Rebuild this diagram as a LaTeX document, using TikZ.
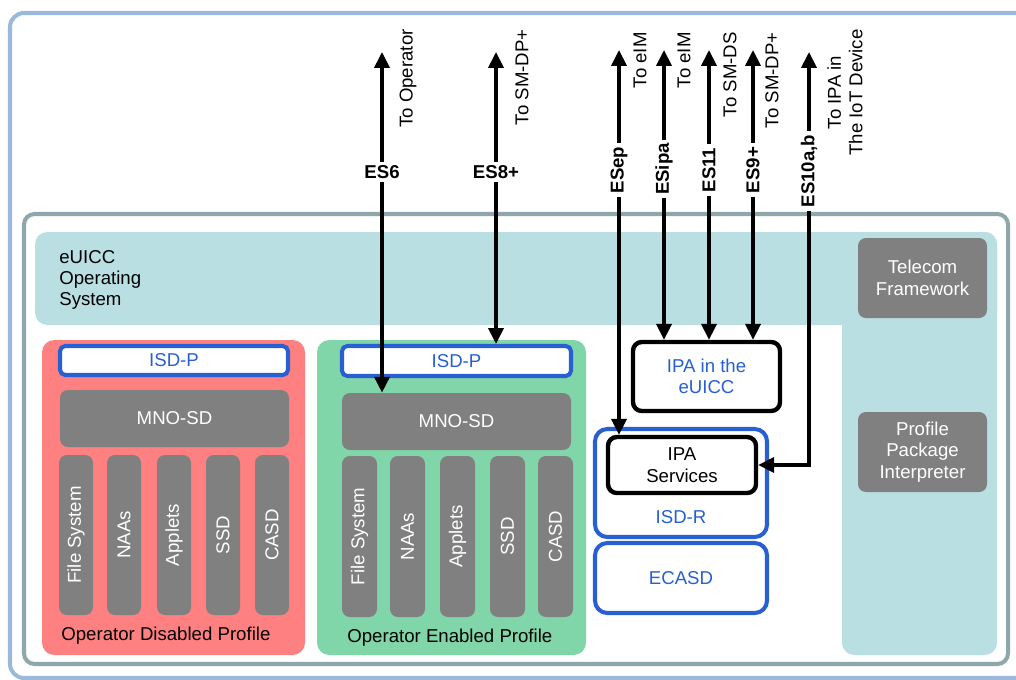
\documentclass[tikz,border=0pt]{standalone}
\usepackage{fontspec}
\setmainfont{Liberation Sans}
\usetikzlibrary{arrows.meta,fit,positioning}

\definecolor{framesky}{RGB}{155,185,220}
\definecolor{framegray}{RGB}{143,167,170}
\definecolor{osteal}{RGB}{185,223,227}
\definecolor{sdgray}{RGB}{128,128,128}
\definecolor{offred}{RGB}{255,128,128}
\definecolor{ongreen}{RGB}{128,214,168}
\definecolor{isdblue}{RGB}{40,96,210}

\tikzset{
  every node/.style={font=\fontsize{10.6}{12.3}\selectfont},
  gbox/.style={fill=sdgray, rounded corners=4.5pt, inner sep=0pt},
  bbox/.style={draw=isdblue, fill=white, line width=2.3pt, rounded corners=7pt, inner sep=0pt},
  kbox/.style={draw=black, fill=white, line width=2.5pt, rounded corners=5pt, inner sep=0pt},
  profbox/.style={rounded corners=7pt},
  boxtext/.style={inner sep=0pt, align=center},
  colname/.style={rotate=90, text=white, inner sep=0pt},
  iface/.style={line width=2pt, {Triangle[length=9pt,width=8.5pt]}-{Triangle[length=9pt,width=8.5pt]}},
  esname/.style={fill=white, font=\fontsize{10.6}{12.3}\selectfont\bfseries, inner sep=2pt},
  dest/.style={rotate=90, anchor=east, align=center, inner sep=0pt},
}

\begin{document}
\begin{tikzpicture}[x=0.02cm, y=-0.02cm]
  \useasboundingbox (0,0) rectangle (1016,679);

  % frames
  \draw[framesky, line width=2.3pt, rounded corners=8pt] (10,13) rectangle (1040,678);
  \draw[framegray, fill=white, line width=2.3pt, rounded corners=6pt] (24,214) rectangle (1008,664);

  % eUICC OS
  \fill[osteal, rounded corners=7pt] (35,232) rectangle (997,325);
  \fill[osteal, rounded corners=7pt] (842,232) rectangle (997,655);
  \node[anchor=north west, align=left, inner sep=0pt, font=\fontsize{10.6}{12}\selectfont] (os) at (59,250) {eUICC\\Operating\\System};

  \node[gbox, fit={(858,238) (987,318)}] (telecom) {};
  \node[boxtext, text=white] (telecomtext) at (telecom) {Telecom\\Framework};
  \node[gbox, fit={(858,412) (987,492)}] (ppi) {};
  \node[boxtext, text=white] (ppitext) at (ppi) {Profile\\Package\\Interpreter};

  % disabled profile
  \fill[offred, profbox] (42,340) rectangle (305,655);
  \node[bbox, rounded corners=3pt, fit={(60,346) (288,375)}] (offisdp) {};
  \node[boxtext, text=isdblue] (offisdptext) at (offisdp) {ISD-P};
  \node[gbox, fit={(60,390) (289,447)}] (offmno) {};
  \node[boxtext, text=white] (offmnotext) at (offmno) {MNO-SD};
  \foreach \x/\t [count=\i] in {59/File System,107/NAAs,157/Applets,206/SSD,255/CASD}{
    \node[gbox, fit={(\x,455) (\x+34,615)}] (offcol\i) {};
    \node[colname] (offtxt\i) at (offcol\i) {\t};
  }
  \node[anchor=west, inner sep=0pt] (offname) at (61,636) {Operator Disabled Profile};

  % enabled profile
  \fill[ongreen, profbox] (317,340) rectangle (586,655);
  \node[bbox, rounded corners=3pt, fit={(342,346) (571,376)}] (onisdp) {};
  \node[boxtext, text=isdblue] (onisdptext) at (onisdp) {ISD-P};
  \node[gbox, fit={(342,393) (571,450)}] (onmno) {};
  \node[boxtext, text=white] (onmnotext) at (onmno) {MNO-SD};
  \foreach \x/\t [count=\i] in {342/File System,390/NAAs,440/Applets,490/SSD,538/CASD}{
    \node[gbox, fit={(\x,456) (\x+35,617)}] (oncol\i) {};
    \node[colname] (ontxt\i) at (oncol\i) {\t};
  }
  \node[anchor=west, inner sep=0pt] (onname) at (347,638) {Operator Enabled Profile};

  % ISD-R, IPA, ECASD
  \node[kbox, fit={(633,342) (780,411)}] (ipaeuicc) {};
  \node[boxtext, text=isdblue] (ipaeuicctext) at (ipaeuicc) {IPA in the\\eUICC};
  \node[bbox, fit={(595,429) (767,537)}] (isdr) {};
  \node[boxtext, text=isdblue] (isdrname) at (681,517) {ISD-R};
  \node[kbox, fit={(608,437) (756,493)}] (iposvc) {};
  \node[boxtext] (iposvctext) at (iposvc) {IPA\\Services};
  \node[bbox, fit={(595,543) (767,613)}] (ecasd) {};
  \node[boxtext, text=isdblue] (ecasdtext) at (ecasd) {ECASD};

  % interfaces
  \coordinate (es6top) at (382,52);
  \coordinate (es8top) at (496,52);
  \coordinate (eseptop) at (619,50);
  \coordinate (esipatop) at (664,50);
  \coordinate (es11top) at (709,50);
  \coordinate (es9top) at (753,50);
  \coordinate (es10top) at (809,52);

  \draw[iface] (es6top) -- (onmno.north -| es6top);
  \draw[iface] (es8top) -- (onisdp.north -| es8top);
  \draw[iface] (eseptop) -- (iposvc.north -| eseptop);
  \draw[iface] (esipatop) -- (ipaeuicc.north -| esipatop);
  \draw[iface] (es11top) -- (ipaeuicc.north -| es11top);
  \draw[iface] (es9top) -- (ipaeuicc.north -| es9top);
  \draw[iface] (es10top) |- (iposvc.east);

  \node[esname] (es6) at (382,172) {ES6};
  \node[esname] (es8) at (496,172) {ES8+};
  \node[esname, rotate=90] (esep) at (619,170) {ESep};
  \node[esname, rotate=90] (esipa) at (664,169) {ESipa};
  \node[esname, rotate=90] (es11) at (709,170) {ES11};
  \node[esname, rotate=90] (es9) at (753,170) {ES9+};
  \node[esname, rotate=90] (es10) at (809,171) {ES10a,b};

  \node[dest] (toop) at (408,29) {To Operator};
  \node[dest] (tosmdp) at (522,29) {To SM-DP+};
  \node[dest] (toeim) at (640,32) {To eIM};
  \node[dest] (toeimb) at (684,32) {To eIM};
  \node[dest] (tosmds) at (730,32) {To SM-DS};
  \node[dest] (tosmdpb) at (772,32) {To SM-DP+};
  \node[dest] (toipa) at (845,29) {To IPA in\\The IoT Device};
\end{tikzpicture}
\end{document}
